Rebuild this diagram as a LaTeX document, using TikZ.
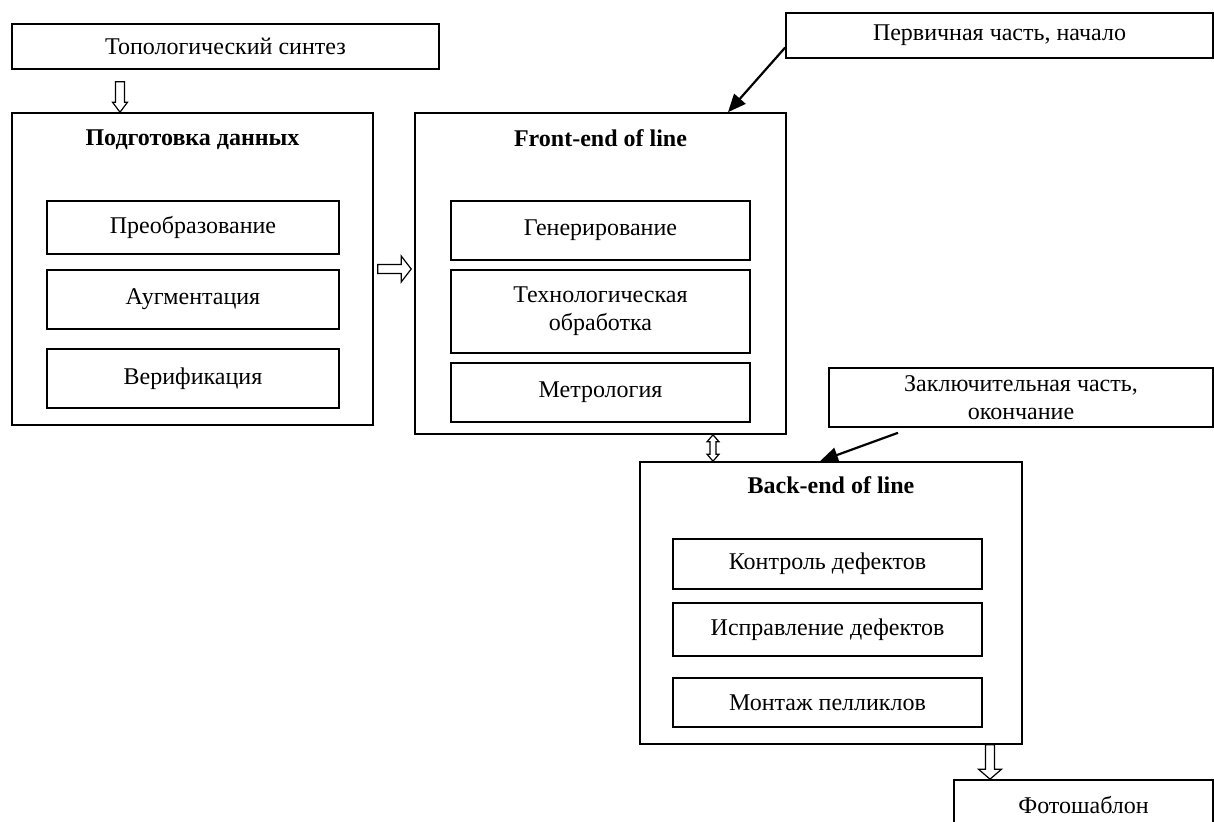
\documentclass[tikz,border=0pt]{standalone}
\usepackage{fontspec}
\setmainfont{Liberation Serif}
\usetikzlibrary{arrows.meta,positioning,calc}

% hollow block arrows between two named points
\newcommand{\blockdown}[3]{%
  \draw[hollow] let \p1=#1, \p2=#2 in
    (\x1-4.5pt,\y1) -- (\x1-4.5pt,\y2+10pt) -- (\x1-#3,\y2+10pt) -- (\x1,\y2)
    -- (\x1+#3,\y2+10pt) -- (\x1+4.5pt,\y2+10pt) -- (\x1+4.5pt,\y1) -- cycle;}
\newcommand{\blockright}[2]{%
  \draw[hollow] let \p1=#1, \p2=#2 in
    (\x1,\y1-4.5pt) -- (\x2-10pt,\y1-4.5pt) -- (\x2-10pt,\y1-13pt) -- (\x2,\y1)
    -- (\x2-10pt,\y1+13pt) -- (\x2-10pt,\y1+4.5pt) -- (\x1,\y1+4.5pt) -- cycle;}
\newcommand{\blockboth}[2]{%
  \draw[hollow] let \p1=#1, \p2=#2 in
    (\x1,\y1) -- (\x1+6pt,\y1-7pt) -- (\x1+3pt,\y1-7pt) -- (\x1+3pt,\y2+7pt)
    -- (\x1+6pt,\y2+7pt) -- (\x1,\y2) -- (\x1-6pt,\y2+7pt) -- (\x1-3pt,\y2+7pt)
    -- (\x1-3pt,\y1-7pt) -- (\x1-6pt,\y1-7pt) -- cycle;}

\begin{document}
\begin{tikzpicture}[
    x=1pt, y=-1pt,
    every node/.style={font=\fontsize{24}{28}\selectfont},
    group/.style={draw, rectangle, line width=1.6pt, inner sep=0pt},
    stage/.style={draw, rectangle, line width=1.6pt, align=center, inner sep=0pt},
    title/.style={font=\fontsize{24}{28}\selectfont\bfseries},
    pointer/.style={-{Triangle[length=18pt,width=15pt]}, line width=2.2pt},
    hollow/.style={draw, line width=1.2pt, fill=white}
]
\useasboundingbox (0,0) rectangle (1214,821);

% input and output
\node[stage, minimum width=427pt, minimum height=45pt] (topo) at (225.5,46.5) {Топологический синтез};
\node[stage, minimum width=259pt, minimum height=51pt] (photo) at (1083.5,805.5) {Фотошаблон};

% data preparation
\node[group, minimum width=361pt, minimum height=312pt] (prep) at (192.5,269) {};
\node[title] (prepT) at (192.5,140) {Подготовка данных};
\node[stage, minimum width=292pt, minimum height=53pt] (conv) at (193,227.5) {Преобразование};
\node[stage, minimum width=292pt, minimum height=59pt] (aug) at (193,299.5) {Аугментация};
\node[stage, minimum width=292pt, minimum height=59pt] (ver) at (193,378.5) {Верификация};

% front-end
\node[group, minimum width=371pt, minimum height=321pt] (feol) at (600.5,273.5) {};
\node[title] (feolT) at (600.5,138) {Front-end of line};
\node[stage, minimum width=299pt, minimum height=59pt] (gen) at (600.5,230.5) {Генерирование};
\node[stage, minimum width=299pt, minimum height=83pt] (tech) at (600.5,311.5) {Технологическая\\обработка};
\node[stage, minimum width=299pt, minimum height=59pt] (metr) at (600.5,392.5) {Метрология};
\node[stage, minimum width=427pt, minimum height=45pt] (prim) at (999.5,35.5) {Первичная часть, начало};

% back-end
\node[group, minimum width=382pt, minimum height=282pt] (beol) at (831,603) {};
\node[title] (beolT) at (831,485) {Back-end of line};
\node[stage, minimum width=309pt, minimum height=50pt] (ctrl) at (827.5,564) {Контроль дефектов};
\node[stage, minimum width=309pt, minimum height=53pt] (fix) at (827.5,629.5) {Исправление дефектов};
\node[stage, minimum width=309pt, minimum height=49pt] (mount) at (827.5,702.5) {Монтаж пелликлов};
\node[stage, minimum width=384pt, minimum height=59pt] (final) at (1021,397.5) {Заключительная часть,\\окончание};

% connectors
\blockdown{([xshift=-105.5pt,yshift=-12pt]topo.south)}{(prep.north)}{7.5pt}
\blockright{([xshift=4pt]prep.east)}{([xshift=-3pt]feol.west)}
\blockboth{([xshift=112.5pt]feol.south)}{(beol.north)}
\blockdown{([xshift=159pt]beol.south)}{(photo.north)}{11.5pt}
\draw[pointer] ([yshift=-12pt]prim.west) -- ([xshift=127.5pt]feol.north);
\draw[pointer] ([xshift=-123pt,yshift=-5pt]final.south) -- ([xshift=-11pt]beol.north);
\end{tikzpicture}
\end{document}
